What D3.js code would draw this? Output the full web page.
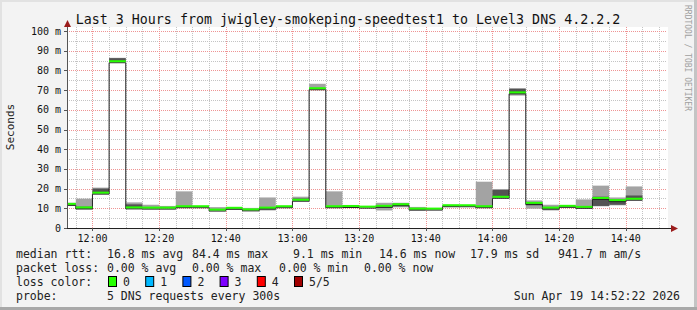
<!DOCTYPE html>
<html>
<head>
<meta charset="utf-8">
<script src="https://cdn.jsdelivr.net/npm/d3@7"></script>
<style>
html, body { margin: 0; padding: 0; background: #f3f3f3; }
svg { display: block; font-family: "DejaVu Sans Mono", monospace; }
</style>
</head>
<body>
<div id="chart"></div>
<script>
// 5 minute bins, start time of each bin
var binTimes = ["11:50", "11:55", "12:00", "12:05", "12:10", "12:15", "12:20", "12:25", "12:30", "12:35",
                "12:40", "12:45", "12:50", "12:55", "13:00", "13:05", "13:10", "13:15", "13:20", "13:25",
                "13:30", "13:35", "13:40", "13:45", "13:50", "13:55", "14:00", "14:05", "14:10", "14:15",
                "14:20", "14:25", "14:30", "14:35", "14:40"];

// the 5 pings of each bin, sorted (ms)
var pingMin = [11.5, 9.4, 17.3, 84.2, 9.8, 9.8, 9.9, 10.3, 10.5, 8.9,
               9.6, 8.9, 8.9, 10.5, 13.7, 70.5, 10.3, 10.5, 10.4, 8.9,
               10.5, 8.9, 9.4, 10.8, 11.0, 10.4, 15.2, 67.2, 9.8, 8.9,
               10.6, 10.2, 11.0, 11.5, 14.2];
var ping2 = [11.8, 9.8, 17.5, 84.3, 10.0, 10.0, 10.0, 10.6, 10.7, 9.0,
             9.8, 9.0, 9.6, 10.7, 13.9, 70.6, 10.6, 10.7, 10.5, 10.5,
             11.2, 9.3, 9.5, 11.0, 11.1, 10.6, 15.5, 68.3, 11.5, 9.6,
             10.8, 10.4, 11.2, 11.8, 14.5];
var median = [12.0, 10.2, 17.7, 84.4, 10.2, 10.1, 10.1, 10.8, 10.8, 9.1,
              10.0, 9.2, 10.1, 10.8, 14.1, 70.7, 10.8, 10.9, 10.6, 11.0,
              11.8, 9.6, 9.6, 11.3, 11.3, 10.8, 15.6, 68.6, 12.5, 10.1,
              11.0, 10.5, 15.0, 13.9, 14.6];
var ping4 = [12.6, 10.8, 20.0, 86.2, 12.0, 10.5, 10.3, 11.0, 10.9, 9.5,
             10.3, 9.6, 10.6, 11.0, 15.0, 71.0, 11.0, 11.5, 10.8, 11.5,
             12.3, 10.0, 9.8, 11.5, 11.4, 11.2, 19.3, 70.7, 13.0, 10.7,
             11.2, 11.0, 15.9, 14.4, 16.5];
var pingMax = [12.8, 14.9, 20.5, 86.4, 13.0, 11.8, 11.2, 18.6, 11.0, 10.6,
               10.6, 10.2, 15.5, 11.2, 15.9, 73.2, 18.6, 11.7, 11.0, 12.8,
               12.8, 10.7, 10.0, 11.8, 11.5, 23.5, 19.8, 70.9, 14.0, 11.8,
               11.4, 14.5, 21.5, 15.5, 21.1];
var lossCount = [0, 0, 0, 0, 0, 0, 0, 0, 0, 0, 0, 0, 0, 0, 0, 0, 0, 0, 0, 0,
                 0, 0, 0, 0, 0, 0, 0, 0, 0, 0, 0, 0, 0, 0, 0];

var yTicks = [0, 10, 20, 30, 40, 50, 60, 70, 80, 90, 100];
var lossLabels = ["0", "1", "2", "3", "4", "5/5"];
var lossColors = ["#26ff00", "#00b8ff", "#0059ff", "#7e00ff", "#ff0000", "#a10000"];
var rttStats = ["16.8 ms avg", "84.4 ms max", "9.1 ms min", "14.6 ms now", "17.9 ms sd", "941.7 m am/s"];
var lossStats = ["0.00 % avg", "0.00 % max", "0.00 % min", "0.00 % now"];

var width = 697, height = 310;
var day = "2026-04-19 ";
var parse = d3.timeParse("%Y-%m-%d %H:%M:%S");
var t0 = parse(day + "11:52:22"), t1 = parse(day + "14:52:22");

var bins = binTimes.map(function (t, i) {
    var s = parse(day + t + ":00");
    return { start: s, end: d3.timeMinute.offset(s, 5), p1: pingMin[i], p2: ping2[i],
             med: median[i], p4: ping4[i], p5: pingMax[i], loss: lossCount[i] };
});

var x = d3.scaleTime().domain([t0, t1]).range([67, 667]);
var y = d3.scaleLinear().domain([0, 100]).range([228, 31]);

var svg = d3.select("#chart").append("svg")
    .attr("width", width)
    .attr("height", height);

// frame
svg.append("rect").attr("width", width).attr("height", height).attr("fill", "#f3f3f3");
svg.append("rect").attr("x", 0).attr("y", 0).attr("width", width).attr("height", 2).attr("fill", "#e2e2e2");
svg.append("rect").attr("x", 0).attr("y", 0).attr("width", 2).attr("height", height).attr("fill", "#e2e2e2");
svg.append("rect").attr("x", width - 3).attr("y", 0).attr("width", 3).attr("height", height).attr("fill", "#c4c4c4");
svg.append("rect").attr("x", 0).attr("y", height - 3).attr("width", width).attr("height", 3).attr("fill", "#a8a8a8");

// canvas
svg.append("rect").attr("x", 67).attr("y", 27).attr("width", 601).attr("height", 201).attr("fill", "#ffffff");

svg.append("clipPath").attr("id", "plot")
    .append("rect").attr("x", 67).attr("y", 27).attr("width", 601).attr("height", 201);

// grid
var grid = svg.append("g").attr("shape-rendering", "crispEdges");
var minorY = d3.range(5, 100, 10);
grid.selectAll(".hmin").data(minorY).enter().append("line")
    .attr("x1", 67).attr("x2", 667)
    .attr("y1", function (d) { return Math.round(y(d)) + 0.5; })
    .attr("y2", function (d) { return Math.round(y(d)) + 0.5; })
    .attr("stroke", "#c4c4c4").attr("stroke-dasharray", "1,1");
var minorX = x.ticks(d3.timeMinute.every(5)).filter(function (d) { return d.getMinutes() % 20 !== 0; });
grid.selectAll(".vmin").data(minorX).enter().append("line")
    .attr("y1", 27).attr("y2", 228)
    .attr("x1", function (d) { return Math.round(x(d)) + 0.5; })
    .attr("x2", function (d) { return Math.round(x(d)) + 0.5; })
    .attr("stroke", "#c4c4c4").attr("stroke-dasharray", "1,1");
grid.selectAll(".hmaj").data(yTicks.slice(1)).enter().append("line")
    .attr("x1", 67).attr("x2", 667)
    .attr("y1", function (d) { return Math.round(y(d)) + 0.5; })
    .attr("y2", function (d) { return Math.round(y(d)) + 0.5; })
    .attr("stroke", "#ef9494").attr("stroke-dasharray", "1,1");
var majorX = x.ticks(d3.timeMinute.every(20));
grid.selectAll(".vmaj").data(majorX).enter().append("line")
    .attr("y1", 27).attr("y2", 228)
    .attr("x1", function (d) { return Math.round(x(d)) + 0.5; })
    .attr("x2", function (d) { return Math.round(x(d)) + 0.5; })
    .attr("stroke", "#ef9494").attr("stroke-dasharray", "1,1");

// smoke
var plot = svg.append("g").attr("clip-path", "url(#plot)");
plot.selectAll(".outer").data(bins).enter().append("rect")
    .attr("x", function (d) { return x(d.start); })
    .attr("width", function (d) { return x(d.end) - x(d.start); })
    .attr("y", function (d) { return y(d.p5); })
    .attr("height", function (d) { return y(d.p1) - y(d.p5); })
    .attr("fill", "#a3a3a3");
plot.selectAll(".inner").data(bins).enter().append("rect")
    .attr("x", function (d) { return x(d.start); })
    .attr("width", function (d) { return x(d.end) - x(d.start); })
    .attr("y", function (d) { return y(d.p4); })
    .attr("height", function (d) { return y(d.p2) - y(d.p4); })
    .attr("fill", "#535353");

// median line
var pts = bins.map(function (d) { return [d.start, d.med]; });
pts.push([bins[bins.length - 1].end, bins[bins.length - 1].med]);
plot.append("path")
    .attr("d", d3.line().curve(d3.curveStepAfter)
        .x(function (d) { return x(d[0]); })
        .y(function (d) { return y(d[1]) + 1; })(pts))
    .attr("fill", "none")
    .attr("stroke", "#202020")
    .attr("stroke-width", 1);

// loss coloured median band
plot.selectAll(".band").data(bins).enter().append("rect")
    .attr("x", function (d) { return x(d.start); })
    .attr("width", function (d) { return x(d.end) - x(d.start); })
    .attr("y", function (d) { return y(d.med) - 1.5; })
    .attr("height", 2)
    .attr("fill", function (d) { return lossColors[d.loss]; });

// axes
var ax = svg.append("g").attr("shape-rendering", "crispEdges");
ax.append("line").attr("x1", 67.5).attr("x2", 67.5).attr("y1", 228).attr("y2", 25).attr("stroke", "#555");
ax.append("line").attr("x1", 64).attr("x2", 672).attr("y1", 228.5).attr("y2", 228.5).attr("stroke", "#222");
ax.selectAll(".yt").data(yTicks).enter().append("line")
    .attr("x1", 64).attr("x2", 67)
    .attr("y1", function (d) { return Math.round(y(d)) + 0.5; })
    .attr("y2", function (d) { return Math.round(y(d)) + 0.5; })
    .attr("stroke", "#555");
ax.selectAll(".xt").data(majorX).enter().append("line")
    .attr("y1", 228).attr("y2", 231)
    .attr("x1", function (d) { return Math.round(x(d)) + 0.5; })
    .attr("x2", function (d) { return Math.round(x(d)) + 0.5; })
    .attr("stroke", "#555");
svg.append("path").attr("d", "M64,27L71,27L67.5,20Z").attr("fill", "#9b1c1c");
svg.append("path").attr("d", "M671,225L671,232L678,228.5Z").attr("fill", "#9b1c1c");

// tick labels
svg.selectAll(".ylab").data(yTicks).enter().append("text")
    .attr("x", 61)
    .attr("y", function (d) { return y(d) + 3.5; })
    .attr("text-anchor", "end")
    .attr("font-size", "10px")
    .attr("fill", "#111")
    .text(function (d) { return d === 0 ? "0" : d + " m"; });
var fmt = d3.timeFormat("%H:%M");
svg.selectAll(".xlab").data(majorX).enter().append("text")
    .attr("x", function (d) { return x(d); })
    .attr("y", 242)
    .attr("text-anchor", "middle")
    .attr("font-size", "10px")
    .attr("fill", "#111")
    .text(fmt);

// titles
svg.append("text").attr("x", 348).attr("y", 23.5).attr("text-anchor", "middle")
    .attr("font-size", "13.3px").attr("fill", "#111")
    .text("Last 3 Hours from jwigley-smokeping-speedtest1 to Level3 DNS 4.2.2.2");
svg.append("text").attr("transform", "translate(14,127) rotate(-90)")
    .attr("text-anchor", "middle").attr("font-size", "11px").attr("fill", "#222")
    .text("Seconds");
svg.append("text").attr("transform", "translate(684.5,5) rotate(90)")
    .attr("font-size", "8px").attr("fill", "#a0a0a0")
    .text("RRDTOOL / TOBI OETIKER");

// legend
var leg = svg.append("g").attr("font-size", "11.5px").attr("fill", "#222");
function put(tx, ty, s, anchor) {
    leg.append("text").attr("x", tx).attr("y", ty).attr("text-anchor", anchor || "start").text(s);
}
put(16, 258, "median rtt:");
var rttX = [107, 192, 293, 379, 470, 558];
rttStats.forEach(function (s, i) { put(rttX[i], 258, s); });
put(16, 272, "packet loss:");
var lossX = [107, 192, 279, 364];
lossStats.forEach(function (s, i) { put(lossX[i], 272, s); });
put(16, 286, "loss color:");
lossLabels.forEach(function (s, i) {
    var bx = 108 + i * 37.2;
    leg.append("rect").attr("x", bx + 0.5).attr("y", 276.5).attr("width", 8).attr("height", 10)
        .attr("fill", lossColors[i]).attr("stroke", "#000").attr("stroke-width", 1);
    put(bx + 15, 286, s);
});
put(16, 300, "probe:");
put(107, 300, "5 DNS requests every 300s");
put(680, 300, "Sun Apr 19 14:52:22 2026", "end");
</script>
</body>
</html>
